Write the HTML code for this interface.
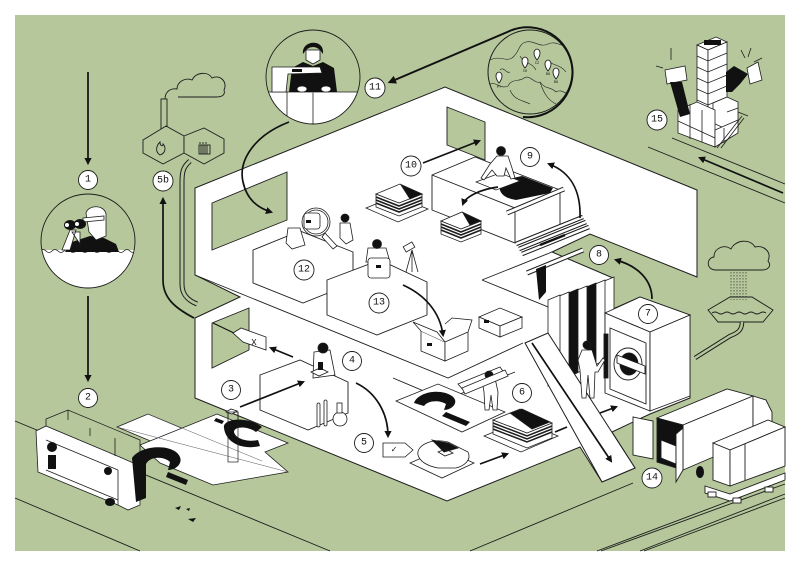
<!DOCTYPE html>
<html><head><meta charset="utf-8"><style>html,body{margin:0;padding:0;background:#fff}svg{display:block}text{font-family:"Liberation Mono",monospace}</style></head>
<body>
<svg width="800" height="566" viewBox="0 0 800 566" xmlns="http://www.w3.org/2000/svg">
<defs>
<marker id="a" viewBox="0 0 10 10" refX="7" refY="5" markerWidth="4.2" markerHeight="4.2" orient="auto"><path d="M0,0 L10,5 L0,10 z" fill="#111"/></marker>
<clipPath id="c1"><circle cx="88" cy="241" r="47"/></clipPath>
<clipPath id="c2"><circle cx="313" cy="77" r="47"/></clipPath>
<clipPath id="c3"><circle cx="530" cy="72" r="42"/></clipPath>
</defs>
<rect width="800" height="566" fill="#fff"/>
<rect x="15" y="15" width="770" height="536" fill="#b5c79b"/>

<!-- roads -->
<g fill="none" stroke="#1d1d1d" stroke-width="0.9">
<path d="M15,421 L330,551 M15,498 L140,551 M470,551 L633,483 M597,551 L785,480 M601,551 L785,484 M640,551 L785,494 M644,551 L785,498 M648,147 L785,203 M672,138 L785,184"/>
</g>

<!-- factory -->
<g fill="#b5c79b" stroke="#1d1d1d" stroke-width="0.9">
<path d="M165,99 C165,92 170,88 177,89 C177,82 185,77 192,80 C196,72 208,71 212,78 C220,74 228,82 224,90 C226,96 220,97 216,97 L178,97"/>
<rect x="161" y="99" width="6" height="30"/>
<polygon points="143,140 166,126 184,136 184,153 163,164 143,153"/>
<polygon points="184,136 204,128 224,139 224,153 204,164 184,153"/>
<path d="M160,155 C155,152 156,146 160,142 C160,146 163,147 163,144 C166,147 166,153 160,155 Z"/>
<rect x="199" y="145" width="11" height="9"/>
<path d="M201,145 V154 M203,145 V154 M205,145 V154 M207,145 V154 M200,142 V144 M203,142 V144 M206,142 V144"/>
</g>
<path d="M190,161 C183,167 182,172 182,182 L182,284 C182,294 187,300 197,304" fill="none" stroke="#1d1d1d" stroke-width="5"/>
<path d="M190,161 C183,167 182,172 182,182 L182,284 C182,294 187,300 197,304" fill="none" stroke="#b5c79b" stroke-width="3"/>

<!-- right cloud / basin -->
<g fill="#b5c79b" stroke="#1d1d1d" stroke-width="0.9">
<path d="M716,270 C706,270 706,258 714,257 C714,248 724,244 731,249 C735,240 750,238 755,247 C764,245 772,252 768,261 C772,266 768,270 762,270 Z"/>
<path d="M708,310 L730,297 L752,297 L773,310 L763,322 L718,322 Z"/>
<path d="M712,313 q3,-2 6,0 t6,0 t6,0 t6,0 t6,0 t6,0 t6,0 t6,0 t6,0" fill="none"/>
</g>
<g stroke="#1d1d1d" stroke-width="0.6" stroke-dasharray="1.5 1.5">
<path d="M731,272V300 M734,272V300 M737,272V300 M740,272V300 M743,272V300 M746,272V300"/>
</g>
<path d="M742,322 C742,330 738,333 730,336 L695,358" fill="none" stroke="#1d1d1d" stroke-width="4.5"/>
<path d="M742,322 C742,330 738,333 730,336 L695,358" fill="none" stroke="#b5c79b" stroke-width="2.5"/>

<!-- building silhouette -->
<path fill="#fff" stroke="#1d1d1d" stroke-width="1" d="M195,188 L445,87 L697,190 L697,277 L590,234 L552,252 L613,278 L613,309 L640,297 L690,315 L690,398 L650,414 L612,432 L635,468 L602,482 L580,447 L447,501 L195,398 L195,318 L240,297 L195,275 Z"/>
<!-- windows -->
<g fill="#b5c79b" stroke="#1d1d1d" stroke-width="0.9">
<polygon points="212,203 287,172 287,220 212,250"/>
<polygon points="447,107 485,122 485,160 447,145"/>
<polygon points="212,323 249,308 249,350 212,368"/>
</g>
<g fill="none" stroke="#1d1d1d" stroke-width="0.9">
<path d="M195,275 L448,378 L523,343"/>
<path d="M482,280 L552,252 M482,280 L580,320 L548,333"/>
<path d="M393,378 L445,400 M445,400 L515,372"/>
</g>

<!-- hanging panels -->
<g stroke="#1d1d1d" stroke-width="0.8">
<polygon points="602,282 614,277 614,356 602,362" fill="#fff"/>
<polygon points="593,285 605,280 605,360 593,366" fill="#fff"/>
<polygon points="584,288 596,283 596,364 584,370" fill="#111"/>
<polygon points="575,291 587,286 587,368 575,374" fill="#fff"/>
<polygon points="566,294 578,289 578,372 566,378" fill="#111"/>
<polygon points="557,297 569,292 569,376 557,382" fill="#fff"/>
<polygon points="548,300 560,295 560,380 548,386" fill="#fff"/>
</g>
<path d="M527,273 L583,250" stroke="#1d1d1d" stroke-width="5"/>
<path d="M527,273 L583,250" stroke="#fff" stroke-width="3"/>
<polygon points="536,269 546,265 546,292 539,300" fill="#111"/>

<!-- ramp -->
<polygon points="525,343 548,333 635,468 602,482" fill="#fff" stroke="#1d1d1d" stroke-width="1"/>

<!-- washing machine -->
<g stroke="#1d1d1d" stroke-width="0.9" fill="#fff">
<polygon points="605,313 640,297 690,315 650,332"/>
<polygon points="605,313 650,332 650,411 605,393"/>
<polygon points="650,332 690,315 690,396 650,411"/>
<polygon points="610,328 646,343 646,404 610,389" fill="none"/>
<ellipse cx="628" cy="364" rx="14" ry="16"/>
<ellipse cx="629" cy="364" rx="9" ry="11" fill="#111"/>
<polygon points="617,355 645,366 645,374 617,363"/>
<rect x="604" y="334" width="4" height="44" fill="#111"/>
</g>

<!-- person 7 -->
<g stroke="#1d1d1d" stroke-width="0.8" fill="#fff">
<path d="M582,350 L592,350 L597,366 L603,358 L605,360 L598,372 L595,372 L594,398 L590,398 L588,375 L586,398 L582,398 L580,370 L578,360 Z"/>
<circle cx="587" cy="345" r="4" fill="#111"/>
</g>

<!-- boxes -->
<g fill="#fff" stroke="#1d1d1d" stroke-width="0.9">
<polygon points="253,250 300,231 353,252 353,283 303,303 253,283"/>
<polygon points="327,280 380,260 427,282 427,315 377,335 327,315"/>
<polygon points="260,375 300,360 348,382 348,413 308,430 260,410"/>
<polygon points="432,175 475,157 560,190 560,225 515,243 432,210"/>
<path d="M432,175 L515,208 L560,190 M515,208 L515,243" fill="none"/>
</g>

<!-- table 9 fabric & person -->
<path d="M500,181 Q496,197 516,200 L550,193 L553,188 L522,176 Z" fill="#111"/>
<polygon points="476,182 500,173 520,181 496,190" fill="#fff" stroke="#1d1d1d" stroke-width="0.7"/>
<g stroke="#1d1d1d" stroke-width="0.8" fill="#fff">
<path d="M497,156 L508,156 L512,168 L515,178 L511,179 L506,168 L504,176 L497,176 L492,170 L484,180 L481,178 L490,164 Z"/>
<circle cx="501" cy="151" r="4.5" fill="#111"/>
</g>
<path d="M507,213 L564,189" stroke="#1d1d1d" stroke-width="5"/>
<path d="M507,213 L564,189" stroke="#fff" stroke-width="3"/>
<g stroke="#1d1d1d" stroke-width="4.5"><path d="M516,244 L583,217 M519,249 L586,222 M522,254 L589,227"/></g>
<g stroke="#fff" stroke-width="2.5"><path d="M516,244 L583,217 M519,249 L586,222 M522,254 L589,227"/></g>
<path d="M540,245 L565,235" stroke="#111" stroke-width="2.5"/>

<!-- stacks -->
<g stroke="#1d1d1d" stroke-width="0.8">
<polygon points="366,208 398,222 428,209 396,196" fill="#fff"/>
<polygon points="376,194 399,203 422,194 422,207 399,216 376,207" fill="#fff"/>
<path d="M376,197 L399,206 L422,197 M376,200 L399,209 L422,200 M376,203 L399,212 L422,203" fill="none" stroke-width="1.6"/>
<polygon points="376,194 400,184 422,194 399,203" fill="#fff"/>
<polygon points="401,185 422,194 410,199" fill="#111"/>

<polygon points="441,221 461,229 481,221 481,234 461,242 441,234" fill="#fff"/>
<path d="M441,224 L461,232 L481,224 M441,227 L461,235 L481,227 M441,230 L461,238 L481,230" fill="none" stroke-width="1.6"/>
<polygon points="441,221 462,212 481,221 461,229" fill="#fff"/>
<polygon points="463,213 481,221 470,225" fill="#111"/>

<polygon points="484,436 521,452 558,436 521,421" fill="#fff"/>
<polygon points="493,420 527,433 552,423 552,438 527,448 493,434" fill="#fff"/>
<path d="M493,423 L527,436 L552,426 M493,426 L527,439 L552,429 M493,429 L527,442 L552,432" fill="none" stroke-width="1.5"/>
<polygon points="493,420 520,409 552,423 527,433" fill="#fff"/>
<polygon points="510,413 522,409 550,422 532,429" fill="#111"/>

<polygon points="410,463 442,478 474,463 442,449" fill="#fff"/>
<path d="M418,455 C416,445 432,438 448,442 L468,452 C472,460 464,466 456,468 L438,468 C428,466 420,462 418,455 Z" fill="#fff"/>
<polygon points="432,440 448,443 458,448 444,452" fill="#111"/>
<polygon points="438,452 446,449 453,453 445,456" fill="none"/>
</g>

<!-- open box and closed box -->
<g fill="#fff" stroke="#1d1d1d" stroke-width="0.8">
<polygon points="421,331 445,342 445,361 421,351"/>
<polygon points="445,342 468,332 468,351 445,361"/>
<path d="M421,331 L413,322 L437,332 L445,342 M468,332 L472,320 L452,318 L445,324"/>
<polygon points="479,317 500,308 522,317 500,326"/>
<polygon points="479,317 500,326 500,337 479,328"/>
<polygon points="500,326 522,317 522,328 500,337"/>
</g>
<rect x="427" y="343" width="5" height="3" fill="#111"/>
<rect x="484" y="320" width="5" height="3" fill="#111"/>

<!-- box 12 magnifier & people -->
<g stroke="#1d1d1d" stroke-width="0.8" fill="#fff">
<path d="M288,228 L300,228 L305,245 L292,249 L286,243 Z"/>
<circle cx="316" cy="222" r="14" fill="#fff" fill-opacity="0.2"/>
<circle cx="316" cy="222" r="12" fill="none"/>
<rect x="304" y="213" width="16" height="16" rx="3"/>
<path d="M325,233 L337,246 L333,249 L322,237 Z"/>
<path d="M340,223 L350,223 L353,240 L346,244 L340,238 Z"/>
<circle cx="345" cy="218" r="4" fill="#111"/>
<path d="M368,248 L386,248 L390,262 L366,262 Z"/>
<circle cx="377" cy="244" r="4.5" fill="#111"/>
<rect x="368" y="258" width="22" height="20" rx="3"/>
<path d="M412,250 L406,272 M412,250 L418,272 M412,250 L412,272" fill="none"/>
<rect x="404" y="244" width="10" height="6" transform="rotate(-30 409 247)"/>
</g>
<rect x="306" y="220" width="5" height="3" fill="#111"/>
<rect x="376" y="265" width="5" height="3" fill="#111"/>

<!-- person 4, lab -->
<g stroke="#1d1d1d" stroke-width="0.8" fill="#fff">
<path d="M314,352 L330,350 L335,375 L313,378 Z"/>
<circle cx="323" cy="348" r="5" fill="#111"/>
<polygon points="311,372 320,368 328,372 319,376"/>
<rect x="317" y="403" width="3" height="24" rx="1.5"/>
<rect x="324" y="400" width="3" height="26" rx="1.5"/>
<circle cx="340" cy="419" r="7"/>
<rect x="337" y="403" width="5" height="10"/>
<rect x="228" y="412" width="10" height="50" fill="none"/>
<polygon points="226,412 231,409 237,411 232,414"/>
</g>
<rect x="318" y="362" width="5" height="8" fill="#111"/>

<!-- tags -->
<path d="M213,323 L236,334" stroke="#111" stroke-width="1.2"/>
<g fill="#fff" stroke="#1d1d1d" stroke-width="0.8">
<polygon points="233,333 241,328 266,337 266,350 243,342"/>
<polygon points="383,443 405,443 413,450 405,457 383,457"/>
</g>
<text x="254" y="343" font-size="9" text-anchor="middle" dominant-baseline="central" fill="#111">X</text>
<text x="394" y="450" font-size="9" text-anchor="middle" dominant-baseline="central" fill="#111">✓</text>

<!-- cutting sheet 6 -->
<g stroke="#1d1d1d" stroke-width="0.8" fill="#fff">
<polygon points="396,401 438,384 505,412 462,432"/>
<path d="M458,384 L500,367 L505,374 L464,391 Z"/>
</g>
<path d="M414,403 C418,392 440,388 452,396 C460,402 452,410 444,410 L446,404 C440,400 428,400 424,406 Z M446,412 L470,422 L466,426 L442,416 Z" fill="#111"/>
<g stroke="#1d1d1d" stroke-width="0.8" fill="#fff">
<path d="M482,380 L495,378 L498,392 L497,410 L493,410 L491,395 L489,410 L485,410 L484,392 Z"/>
<circle cx="489" cy="375" r="4" fill="#111"/>
<path d="M462,388 L505,370 L508,376 L465,394 Z"/>
</g>

<!-- bottom-left cutting -->
<g stroke="#1d1d1d" stroke-width="0.8" fill="#fff">
<polygon points="117,427 148,414 215,442 184,455"/>
<polygon points="140,445 217,414 288,443 265,452 288,472 213,485 160,463"/>
</g>
<path d="M117,427 L288,472 M148,414 L262,461" stroke="#555" stroke-width="0.5" fill="none"/>
<path d="M224,428 C222,418 248,416 262,427 L256,432 C248,426 234,426 234,432 C236,440 250,442 258,440 L260,446 C244,450 226,444 224,428 Z" fill="#111"/>
<path d="M216,418 L224,421 L222,424 L214,421 Z" fill="#111"/>
<rect x="228" y="412" width="10" height="50" fill="none" stroke="#1d1d1d" stroke-width="0.7"/>
<g stroke="#1d1d1d" stroke-width="0.8">
<polygon points="36,431 46,426 122,458 140,466 140,505 128,510 118,505 38,472" fill="#fff"/>
<path d="M46,426 L46,419 L68,410 L140,440 L140,466 M68,410 L68,420 M90,428 L90,436 M115,438 L115,456" fill="none"/>
<path d="M46,440 L118,470 M46,470 L118,500 M118,470 L118,505" fill="none"/>
</g>
<circle cx="52" cy="447" r="5" fill="#111"/>
<circle cx="108" cy="471" r="4" fill="#111"/>
<rect x="48" y="455" width="8" height="14" fill="#111"/>
<ellipse cx="110" cy="502" rx="5" ry="4" fill="#111"/>
<path d="M132,458 C140,446 166,444 176,452 C186,460 178,470 168,470 L170,462 C164,456 150,456 146,464 L146,498 L136,502 Z M168,472 L188,480 L186,485 L166,477 Z" fill="#111"/>
<path d="M175,508 L181,506 L179,510 Z M186,509 L190,508 L189,511 Z M188,519 L196,518 L193,522 Z" fill="#111"/>

<!-- trucks -->
<g stroke="#1d1d1d" stroke-width="0.9" fill="#fff">
<polygon points="657,418 727,389 753,396 683,425"/>
<polygon points="683,425 753,396 753,440 683,470"/>
<polygon points="753,396 766,400 772,412 772,428 753,437"/>
<polygon points="657,418 683,425 683,470 657,462" fill="#111"/>
<polygon points="661,440 676,446 676,464 661,458"/>
<polygon points="633,417 653,421 653,459 633,455"/>
<polygon points="683,428 676,434 676,482 683,470"/>
</g>
<ellipse cx="700" cy="472" rx="4" ry="6" fill="#111"/>
<g stroke="#1d1d1d" stroke-width="0.9" fill="#fff">
<polygon points="705,486 730,494 785,473 785,480 730,501 705,493"/>
<rect x="708" y="492" width="8" height="5"/>
<rect x="733" y="498" width="8" height="5"/>
<rect x="765" y="487" width="8" height="5"/>
<polygon points="713,443 768,420 785,427 730,450"/>
<polygon points="713,443 730,450 730,486 713,480"/>
<polygon points="730,450 785,427 785,466 730,486"/>
<path d="M745,444 L745,480" fill="none"/>
</g>

<!-- tower 15 -->
<g stroke="#1d1d1d" stroke-width="0.8" fill="#fff">
<polygon points="697,45 716,37 727,42 708,50"/>
<polygon points="697,45 708,50 708,135 697,130"/>
<polygon points="708,50 727,42 727,127 708,135"/>
<path d="M697,56 L708,61 L727,53 M697,67 L708,72 L727,64 M697,78 L708,83 L727,75 M697,89 L708,94 L727,86 M697,100 L708,105 L727,97 M697,111 L708,116 L727,108" fill="none"/>
<polygon points="713,103 727,97 738,102 738,122 724,128 713,123"/>
<polygon points="678,110 697,102 715,110 715,147 678,133"/>
<polygon points="715,130 738,120 738,133 715,147"/>
<path d="M678,121 L715,138 M690,104 L690,139 M702,110 L702,142 M724,128 L724,143 M727,112 L738,108" fill="none"/>
<path d="M717,148 L742,116 M721,148 L744,118 M738,112 L748,116" fill="none"/>
<polygon points="665,70 685,66 687,80 667,84"/>
<polygon points="747,68 758,62 762,80 750,84"/>
</g>
<rect x="704" y="40" width="17" height="5" fill="#111"/>
<path d="M670,82 L682,82 L690,114 L680,117 Z M726,72 L734,66 L748,74 L740,84 L732,92 L726,92 Z" fill="#111"/>
<path d="M671,48 V60 M656,66 L663,68 M741,50 L745,58 M751,48 L748,57 M762,58 L754,62" stroke="#1d1d1d" stroke-width="0.8"/>

<!-- binocular vignette -->
<circle cx="88" cy="241" r="47" fill="#b5c79b"/>
<g clip-path="url(#c1)">
<rect x="40" y="250" width="100" height="50" fill="#fff"/>
<path d="M40,251 q3,-3 6,0 t6,0 t6,0 t6,0 t6,0 t6,0 t6,0 t6,0 t6,0 t6,0 t6,0 t6,0 t6,0 t6,0 t6,0 t6,0 t6,0" fill="none" stroke="#1d1d1d" stroke-width="0.8"/>
<path d="M65,252 L72,242 L90,236 L104,238 L116,244 L119,252 Z" fill="#111"/>
<g stroke="#1d1d1d" stroke-width="0.8" fill="#fff">
<path d="M86,213 C88,205 104,204 106,214 L106,236 L96,240 L89,232 Z"/>
<path d="M83,218 L104,216 L104,220 L83,222 Z"/>
<path d="M62,250 L70,230 L76,230 L70,250 Z M72,232 L80,232 L80,244 Z"/>
</g>
<ellipse cx="70" cy="225" rx="6" ry="5" fill="#111"/>
<ellipse cx="80" cy="224" rx="6" ry="5" fill="#111"/>
<circle cx="67" cy="225" r="2" fill="#fff"/>
<circle cx="77" cy="224" r="2" fill="#fff"/>
</g>
<circle cx="88" cy="241" r="47" fill="none" stroke="#1d1d1d" stroke-width="0.9"/>

<!-- sewing vignette -->
<circle cx="313" cy="77" r="47" fill="#b5c79b"/>
<g clip-path="url(#c2)">
<rect x="260" y="92" width="110" height="40" fill="#fff"/>
<path d="M260,92 H370 M287,92 V125 M313,92 V125" stroke="#1d1d1d" stroke-width="0.8"/>
<path d="M313,92 V125" stroke="#888" stroke-width="1.5" stroke-dasharray="1 1.5"/>
<path d="M289,92 L292,68 L303,62 L313,66 L323,62 L334,68 L337,92 Z" fill="#111"/>
<path d="M306,50 L320,50 L320,60 L313,64 L306,60 Z" fill="#fff" stroke="#1d1d1d" stroke-width="0.8"/>
<path d="M303,54 C301,40 325,38 323,54 L320,50 C316,46 310,46 306,50 Z" fill="#111"/>
<path d="M272,67 L320,67 L322,73 L288,74 L286,92 L272,92 Z" fill="#fff" stroke="#1d1d1d" stroke-width="0.8"/>
<rect x="292" y="69" width="10" height="3" fill="#111"/>
<ellipse cx="302" cy="89" rx="5" ry="3" fill="#fff" stroke="#1d1d1d" stroke-width="0.7"/>
<ellipse cx="326" cy="89" rx="5" ry="3" fill="#fff" stroke="#1d1d1d" stroke-width="0.7"/>
</g>
<circle cx="313" cy="77" r="47" fill="none" stroke="#1d1d1d" stroke-width="0.9"/>

<!-- map -->
<g clip-path="url(#c3)" fill="none" stroke="#1d1d1d" stroke-width="0.6">
<path d="M490,60 C500,55 505,62 512,58 C520,52 518,44 526,42 C534,40 540,48 548,44 C556,40 562,48 572,46"/>
<path d="M488,85 C496,80 500,90 508,86 C512,78 520,82 524,78 C530,74 534,84 540,82 C546,90 550,86 556,92 C562,88 566,96 574,94"/>
<path d="M510,90 C514,100 522,100 530,104 M540,82 C544,94 548,100 556,104 M500,70 C504,66 506,74 510,72"/>
<path d="M520,56 C524,64 532,62 536,70 M548,60 C552,66 560,64 566,72"/>
</g>
<g fill="#fff" stroke="#1d1d1d" stroke-width="0.9">
<path d="M499,83 C495,78 495,73 499,72 C503,73 503,78 499,83 Z"/>
<path d="M525,68 C521,63 521,58 525,57 C529,58 529,63 525,68 Z"/>
<path d="M537,60 C533,55 533,50 537,49 C541,50 541,55 537,60 Z"/>
<path d="M548,71 C544,66 544,61 548,60 C552,61 552,66 548,71 Z"/>
<path d="M556,79 C552,74 552,69 556,68 C560,69 560,74 556,79 Z"/>
</g>
<g font-size="3.5" fill="#111" text-anchor="middle">
<text x="499" y="88">PT</text><text x="525" y="72">CH</text><text x="537" y="64">CZ</text><text x="548" y="75">BG</text><text x="556" y="83">BG</text>
</g>
<circle cx="530" cy="72" r="42" fill="none" stroke="#1d1d1d" stroke-width="1"/>
<path d="M523,117 A45,45 0 1 0 512,30 L390,82" fill="none" stroke="#111" stroke-width="2" marker-end="url(#a)"/>

<!-- arrows -->
<g fill="none" stroke="#111" stroke-width="1.7" marker-end="url(#a)">
<path d="M88,72 L88,163"/>
<path d="M88,296 L88,380"/>
<path d="M194,318 C175,308 163,298 163,280 L163,199"/>
<path d="M289,122 C255,135 238,160 243,182 C247,200 258,208 271,212"/>
<path d="M423,163 L479,141"/>
<path d="M580,218 C581,190 570,172 549,164"/>
<path d="M498,187 C482,189 466,196 463,204"/>
<path d="M652,299 C652,280 638,266 616,260"/>
<path d="M783,193 L700,158"/>
<path d="M403,285 C425,295 440,312 443,335"/>
<path d="M240,407 L303,382"/>
<path d="M293,357 L271,348"/>
<path d="M356,383 C375,392 388,412 388,436"/>
<path d="M480,464 L507,454"/>
<path d="M532,343 L611,461"/>
<path d="M600,413 L616,407"/>
</g>
<path d="M555,432 L567,427" stroke="#111" stroke-width="1.7"/>

<!-- number circles -->
<g fill="#fff" stroke="#1d1d1d" stroke-width="0.9">
<circle cx="88" cy="180" r="9.5"/><circle cx="88" cy="398" r="9.5"/><circle cx="231" cy="390" r="9.5"/>
<circle cx="352" cy="361" r="9.5"/><circle cx="364" cy="443" r="9.5"/><circle cx="163" cy="181" r="10"/>
<circle cx="522" cy="393" r="9.5"/><circle cx="648" cy="314" r="9.5"/><circle cx="599" cy="255" r="9.5"/>
<circle cx="530" cy="157" r="9.5"/><circle cx="411" cy="166" r="10"/><circle cx="375" cy="88" r="10"/>
<circle cx="304" cy="270" r="10"/><circle cx="379" cy="303" r="10"/><circle cx="652" cy="478" r="10"/>
<circle cx="657" cy="120" r="10"/>
</g>
<g font-size="10" fill="#111" text-anchor="middle" dominant-baseline="central">
<text x="88" y="180">1</text><text x="88" y="398">2</text><text x="231" y="390">3</text>
<text x="352" y="361">4</text><text x="364" y="443">5</text><text x="163" y="181">5b</text>
<text x="522" y="393">6</text><text x="648" y="314">7</text><text x="599" y="255">8</text>
<text x="530" y="157">9</text><text x="411" y="166">10</text><text x="375" y="88">11</text>
<text x="304" y="270">12</text><text x="379" y="303">13</text><text x="652" y="478">14</text>
<text x="657" y="120">15</text>
</g>
</svg>
</body></html>
